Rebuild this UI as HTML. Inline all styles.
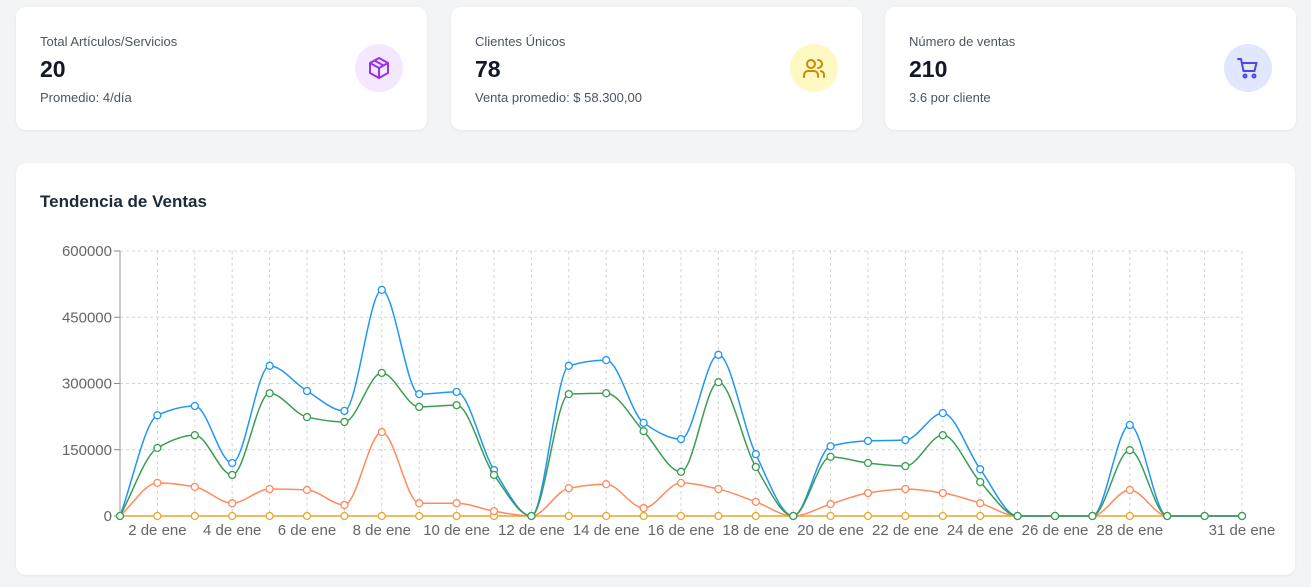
<!DOCTYPE html>
<html><head><meta charset="utf-8">
<style>
body{margin:0;width:1311px;height:587px;background:#f3f4f6;font-family:"Liberation Sans",sans-serif;position:relative;overflow:hidden}
.card{position:absolute;top:7px;height:123px;width:411px;background:#fff;border-radius:10px;box-shadow:0 1px 3px rgba(0,0,0,.06)}
.lab{position:absolute;left:24px;top:27px;font-size:13px;color:#4b5563}
.val{position:absolute;left:24px;top:49px;font-size:23px;font-weight:bold;color:#111827}
.sub{position:absolute;left:24px;top:83px;font-size:13px;color:#4b5563}
.ic{position:absolute;right:24px;top:37px;width:48px;height:48px;border-radius:50%;display:flex;align-items:center;justify-content:center}
#chartcard{position:absolute;left:16px;top:163px;width:1279px;height:412px;background:#fff;border-radius:10px;box-shadow:0 1px 3px rgba(0,0,0,.06)}
</style></head><body>
<div class="card" style="left:16px">
<div class="lab">Total Artículos/Servicios</div>
<div class="val">20</div>
<div class="sub">Promedio: 4/día</div>
<div class="ic" style="background:#f3e8ff"><svg width="24" height="24" viewBox="0 0 24 24" fill="none" stroke="#9333ea" stroke-width="2" stroke-linejoin="round"><path d="M12 2l9 5v10l-9 5-9-5V7z M3 7l9 5 9-5 M12 12v10 M7.5 4.5l9 5"/></svg></div>
</div>
<div class="card" style="left:451px">
<div class="lab">Clientes Únicos</div>
<div class="val">78</div>
<div class="sub">Venta promedio: $ 58.300,00</div>
<div class="ic" style="background:#fef9c3"><svg width="24" height="24" viewBox="0 0 24 24" fill="none" stroke="#ca8a04" stroke-width="2" stroke-linecap="round"><circle cx="9" cy="8" r="4"/><path d="M2 21v-2a4 4 0 014-4h6a4 4 0 014 4v2 M16 4a4 4 0 010 8 M22 21v-2a4 4 0 00-3-3.9"/></svg></div>
</div>
<div class="card" style="left:885px">
<div class="lab">Número de ventas</div>
<div class="val">210</div>
<div class="sub">3.6 por cliente</div>
<div class="ic" style="background:#e0e7ff"><svg width="24" height="24" viewBox="0 0 24 24" fill="none" stroke="#4f46e5" stroke-width="2" stroke-linecap="round" stroke-linejoin="round"><circle cx="9" cy="20" r="1.5"/><circle cx="18" cy="20" r="1.5"/><path d="M2 3h3l2.5 12h11l2-8H6"/></svg></div>
</div>
<div id="chartcard">
<div style="position:absolute;left:24px;top:29px;font-size:17px;font-weight:bold;color:#1f2937">Tendencia de Ventas</div>
</div>
<svg id="chart" width="1311" height="587" style="position:absolute;left:0;top:0"></svg>
<script>
const days=[1,2,3,4,5,6,7,8,9,10,11,12,13,14,15,16,17,18,19,20,21,22,23,24,25,26,27,28,29,30,31];
const xLabelDays=[2,4,6,8,10,12,14,16,18,20,22,24,26,28,31];
const yTicks=[0,150000,300000,450000,600000];
const blueVals=[0,228000,249000,120000,340000,283000,238000,512000,276000,281000,104000,0,340000,353000,211000,174000,365000,140000,0,158000,170000,172000,233000,106000,0,0,0,206000,0,0,0];
const greenVals=[0,154000,183000,93000,278000,224000,213000,324000,247000,251000,93000,0,276000,278000,192000,100000,303000,111000,0,134000,120000,113000,183000,77000,0,0,0,149000,0,0,0];
const orangeVals=[0,75000,66000,29000,61000,59000,25000,190000,29000,29000,11000,0,63000,72000,18000,75000,61000,32000,0,27000,52000,61000,52000,29000,0,0,0,59000,0,0,0];
const yellowVals=[0,0,0,0,0,0,0,0,0,0,0,0,0,0,0,0,0,0,0,0,0,0,0,0,0,0,0,0,0,0,0];
const svg=document.getElementById('chart');const NS='http://www.w3.org/2000/svg';
const x=d=>120+(d-1)*(1122/30);const y=v=>516-v/600000*265;
function mk(t,a){const e=document.createElementNS(NS,t);for(const k in a)e.setAttribute(k,a[k]);svg.appendChild(e);return e;}
yTicks.forEach(v=>{const g=mk('line',{x1:120,x2:1242,y1:y(v),y2:y(v),stroke:'#d4d4d4','stroke-dasharray':'3 3'});


mk('line',{x1:114,x2:120,y1:y(v),y2:y(v),stroke:'#888'});
const t=mk('text',{x:112,y:y(v)+5,'text-anchor':'end','font-size':15,fill:'#666','font-family':'Liberation Sans'});t.textContent=v;

});
days.forEach(d=>{if(d>1){const g=mk('line',{x1:x(d),x2:x(d),y1:251,y2:516,stroke:'#d4d4d4','stroke-dasharray':'3 3'});

}});
mk('line',{x1:120,x2:120,y1:251,y2:516,stroke:'#999'});
xLabelDays.forEach(d=>{const t=mk('text',{x:x(d),y:535,'text-anchor':'middle','font-size':15,fill:'#666','font-family':'Liberation Sans'});t.textContent=d+' de ene';

});
function mono(px,py){const n=px.length,m=[],dl=[];for(let i=0;i<n-1;i++)dl.push((py[i+1]-py[i])/(px[i+1]-px[i]));
for(let i=0;i<n;i++){if(i==0)m.push(dl[0]);else if(i==n-1)m.push(dl[n-2]);else{if(dl[i-1]*dl[i]<=0)m.push(0);else{const h0=px[i]-px[i-1],h1=px[i+1]-px[i];m.push(3*(h0+h1)/((2*h1+h0)/dl[i-1]+(h1+2*h0)/dl[i]));}}}
let s='M'+px[0]+','+py[0];for(let i=0;i<n-1;i++){const h=(px[i+1]-px[i])/3;s+=' C'+(px[i]+h)+','+(py[i]+m[i]*h)+' '+(px[i+1]-h)+','+(py[i+1]-m[i+1]*h)+' '+px[i+1]+','+py[i+1];}return s;}
[[yellowVals,'#e6a72a','series-yellow'],[orangeVals,'#ff8a5b','series-orange'],[blueVals,'#2196f3','series-blue'],[greenVals,'#3a9d54','series-green']].forEach(([vals,c,nm])=>{
const px=days.map(x),py=vals.map(y);const p=mk('path',{d:mono(px,py),fill:'none',stroke:c,'stroke-width':1.5});


days.forEach((d,i)=>{const ci=mk('circle',{cx:x(d),cy:y(vals[i]),r:3.5,fill:'#fff',stroke:c,'stroke-width':1.3});

});});
</script>
</body></html>
